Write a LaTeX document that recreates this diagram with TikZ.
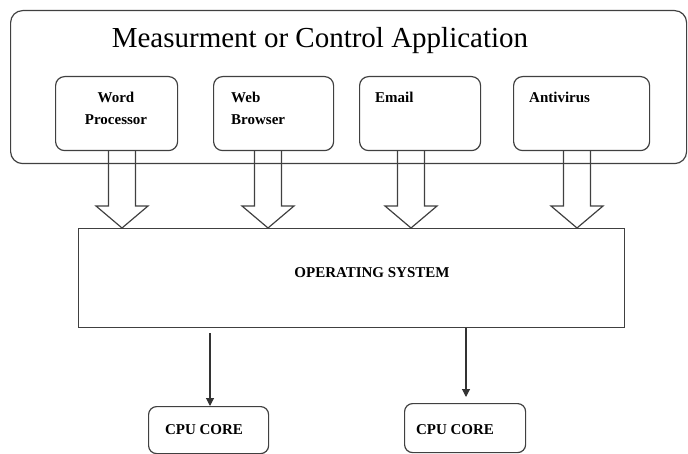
\documentclass[tikz,border=0pt]{standalone}
\usepackage{fontspec}
\setmainfont{Liberation Serif}
\usetikzlibrary{arrows.meta,positioning,calc}

\begin{document}
\begin{tikzpicture}[x=1pt,y=-1pt,
    scatola/.style={draw=black!75, line width=1.2pt, rounded corners=9pt, anchor=north west, inner sep=0pt},
    etichetta/.style={font=\bfseries\fontsize{15}{22}\selectfont, inner sep=0pt},
    freccia/.style={draw=black!75, line width=1.2pt},
    filo/.style={draw=black!80, line width=1.1pt, -{Triangle[length=8pt,width=8pt]}}]

    \useasboundingbox (0,0) rectangle (688,454);

    % Riquadro applicazioni
    \node[scatola, rounded corners=12pt, minimum width=676pt, minimum height=153pt] (app) at (10,10) {};
    \node[font=\fontsize{29}{32}\selectfont, anchor=base, inner sep=0pt] (titolo) at (320,48) {Measurment or Control Application};

    % Programmi
    \node[scatola, minimum width=122pt, minimum height=74pt] (word) at (55,76) {};
    \node[scatola, minimum width=120pt, minimum height=74pt] (web) at (213,76) {};
    \node[scatola, minimum width=121pt, minimum height=74pt] (email) at (359,76) {};
    \node[scatola, minimum width=136pt, minimum height=74pt] (anti) at (513,76) {};

    \node[etichetta, anchor=base, align=center] (tword) at (116,125) {Word\\Processor};
    \node[etichetta, anchor=base west, align=left] (tweb) at (231,125) {Web\\Browser};
    \node[etichetta, anchor=base west] (temail) at (375,103) {Email};
    \node[etichetta, anchor=base west] (tanti) at (529,103) {Antivirus};

    % Sistema operativo
    \node[draw=black!75, line width=1.2pt, anchor=north west, inner sep=0pt,
          minimum width=546pt, minimum height=99pt] (os) at (78,228) {};
    \node[etichetta, anchor=base] (tos) at (372,278) {OPERATING SYSTEM};

    % Frecce larghe
    \foreach \prog/\cx in {word/122, web/268, email/411, anti/577}
    \draw[freccia] let \p1=(\prog.south), \p2=(os.north) in
        ({\cx-13.5},\y1) -- ({\cx-13.5},{\y2+22pt}) -- ({\cx-26},{\y2+22pt}) -- (\cx,\y2)
        -- ({\cx+26},{\y2+22pt}) -- ({\cx+13.5},{\y2+22pt}) -- ({\cx+13.5},\y1);

    % Nuclei
    \node[scatola, rounded corners=8pt, minimum width=120pt, minimum height=47pt] (cpua) at (148,406) {};
    \node[scatola, rounded corners=8pt, minimum width=121pt, minimum height=49pt] (cpub) at (404,403) {};
    \node[etichetta, anchor=base] (tcpua) at (204,434) {CPU CORE};
    \node[etichetta, anchor=base] (tcpub) at (455,434) {CPU CORE};

    \draw[filo] ($(os.south -| 210,0)+(0,5)$) -- (cpua.north -| 210,0);
    \draw[filo, shorten >=6pt] (os.south -| 466,0) -- (cpub.north -| 466,0);
\end{tikzpicture}
\end{document}
